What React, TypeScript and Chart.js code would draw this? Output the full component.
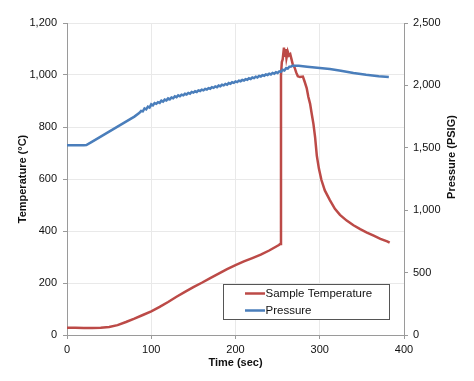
import React, { useEffect, useRef } from "react";
import { Chart, registerables } from "chart.js";

Chart.register(...registerables);

const FONT = '"Liberation Sans", Arial, Helvetica, sans-serif';

const seriesNames = ["Sample Temperature", "Pressure"];
const seriesColors = ["#BC4A47", "#4A7EBB"];

const xAxisTitle = "Time (sec)";
const leftAxisTitle = "Temperature (°C)";
const rightAxisTitle = "Pressure (PSIG)";

const xTickValues = [0, 100, 200, 300, 400];
const tempTickValues = [0, 200, 400, 600, 800, 1000, 1200];
const pressTickValues = [0, 500, 1000, 1500, 2000, 2500];

const tempTime = [
  0, 10, 20, 30, 40, 50, 60, 70, 80, 90, 100, 110, 120, 130, 140, 150, 160, 170, 180, 190,
  200, 210, 220, 230, 240, 251.5, 253, 254, 255, 256, 257.5, 258.5, 259.5, 260.5, 262,
  263.5, 265, 266.5, 268, 270, 272, 274, 276.5, 280, 282, 284.5, 286.5, 288.5, 290.5,
  292.5, 294.5, 296.5, 299, 302, 306, 312, 318, 324, 332, 340, 348, 356, 364, 372, 380, 383,
];
const tempValues = [
  28, 27.5, 27, 27, 28, 31, 38, 50, 63, 77, 91, 108, 127, 147, 166, 184, 201, 219, 236, 253,
  269, 283, 296, 309, 325, 346, 350, 1000, 1050, 1060, 1105, 1070, 1100, 1065, 1090,
  1075, 1080, 1060, 1040, 1030, 1010, 995, 992, 994, 975, 950, 915, 890, 850,
  812, 760, 690, 640, 596, 556, 519, 485, 462, 440, 422, 407, 394, 382, 370, 360, 355,
];

const pressTime = [
  0, 10, 20, 23, 30, 40, 50, 60, 70, 80, 86,
  88, 90, 92, 94, 96, 98, 100, 102, 104, 106, 108, 110, 112, 114, 116, 118, 120, 122, 124,
  126, 128, 130, 132, 134, 136, 138, 140, 142, 144, 146, 148, 150, 152, 154, 156, 158, 160,
  162, 164, 166, 168, 170, 172, 174, 176, 178, 180, 182, 184, 186, 188, 190, 192, 194, 196,
  198, 200, 202, 204, 206, 208, 210, 212, 214, 216, 218, 220, 222, 224, 226, 228, 230, 232,
  234, 236, 238, 240, 242, 244, 246, 248, 250, 252, 254, 256, 258, 260, 262, 264, 266, 268,
  275, 285, 300, 312, 325, 340, 355, 370, 382,
];
const pressValues = [
  1520, 1520, 1521, 1522, 1550, 1590, 1630, 1670, 1710, 1750, 1780,
  1795, 1792, 1815, 1808, 1830, 1822, 1848, 1840, 1858, 1852, 1866, 1860, 1878, 1870, 1886, 1880, 1896, 1888, 1903,
  1897, 1912, 1906, 1920, 1913, 1926, 1920, 1933, 1927, 1940, 1934, 1948, 1942, 1953, 1947, 1960, 1955, 1966,
  1960, 1972, 1967, 1978, 1973, 1986, 1980, 1992, 1986, 1999, 1993, 2005, 2000, 2012, 2006, 2019, 2013, 2025,
  2020, 2032, 2026, 2038, 2033, 2044, 2039, 2050, 2045, 2057, 2051, 2063, 2058, 2070, 2064, 2076, 2071, 2082,
  2077, 2088, 2083, 2094, 2088, 2100, 2094, 2106, 2100, 2112, 2108, 2125, 2120, 2138, 2135, 2150, 2152, 2158,
  2157, 2150, 2140, 2131, 2118, 2100, 2085, 2073, 2067,
];

const fmt = (v: number) => Number(v).toLocaleString("en-US");

const customDecor = {
  id: "customDecor",
  afterDraw(chart: any) {
    const ctx = chart.ctx;
    ctx.save();
    // right axis title, reading bottom to top
    ctx.translate(451.5, 157);
    ctx.rotate(-Math.PI / 2);
    ctx.font = `bold 11px ${FONT}`;
    ctx.fillStyle = "#111";
    ctx.textAlign = "center";
    ctx.textBaseline = "middle";
    ctx.fillText(rightAxisTitle, 0, 0);
    ctx.restore();

    // legend box
    ctx.save();
    const bx = 223.5, by = 284.5, bw = 166, bh = 35;
    ctx.fillStyle = "#ffffff";
    ctx.fillRect(bx, by, bw, bh);
    ctx.strokeStyle = "#555";
    ctx.lineWidth = 1;
    ctx.strokeRect(bx, by, bw, bh);
    const rows = [293.5, 310.5];
    chart.data.datasets.forEach((ds: any, i: number) => {
      const y = rows[i];
      ctx.strokeStyle = ds.borderColor;
      ctx.lineWidth = 2.5;
      ctx.beginPath();
      ctx.moveTo(245, y);
      ctx.lineTo(265, y);
      ctx.stroke();
      ctx.fillStyle = "#111";
      ctx.font = `11.5px ${FONT}`;
      ctx.textAlign = "left";
      ctx.textBaseline = "middle";
      ctx.fillText(ds.label, 265.5, y + 0.5);
    });
    ctx.restore();
  },
};

export default function App() {
  const ref = useRef<HTMLCanvasElement | null>(null);

  useEffect(() => {
    if (!ref.current) return;
    const gridColor = "#e9e9e9";
    const axisColor = "#9a9a9a";
    const tickFont = { family: FONT, size: 11 };
    const chart = new Chart(ref.current, {
      type: "line",
      data: {
        datasets: [
          {
            label: seriesNames[0],
            data: tempTime.map((t, i) => ({ x: t, y: tempValues[i] })),
            borderColor: seriesColors[0],
            backgroundColor: seriesColors[0],
            borderWidth: 2.5,
            pointRadius: 0,
            tension: 0,
            yAxisID: "y",
            order: 1,
          },
          {
            label: seriesNames[1],
            data: pressTime.map((t, i) => ({ x: t, y: pressValues[i] })),
            borderColor: seriesColors[1],
            backgroundColor: seriesColors[1],
            borderWidth: 2.5,
            pointRadius: 0,
            tension: 0,
            yAxisID: "y1",
            order: 0,
          },
        ],
      },
      options: {
        responsive: false,
        animation: false,
        events: [],
        layout: { padding: { top: 23, left: 0, right: 0, bottom: 0 }, autoPadding: false },
        plugins: {
          legend: { display: false },
          tooltip: { enabled: false },
        },
        scales: {
          x: {
            type: "linear",
            min: 0,
            max: 400,
            afterBuildTicks: (s: any) => {
              s.ticks = xTickValues.map((v) => ({ value: v }));
            },
            afterFit: (s: any) => {
              s.height = 46;
            },
            ticks: { font: tickFont, color: "#111", padding: 4, callback: (v: any) => fmt(v), maxRotation: 0 },
            grid: { color: gridColor, tickColor: axisColor, tickLength: 4 },
            border: { color: axisColor, width: 1 },
            title: {
              display: true,
              text: xAxisTitle,
              font: { family: FONT, size: 11, weight: "bold" },
              color: "#111",
              padding: { top: 0, bottom: 11 },
            },
          },
          y: {
            type: "linear",
            position: "left",
            min: 0,
            max: 1200,
            afterBuildTicks: (s: any) => {
              s.ticks = tempTickValues.map((v) => ({ value: v }));
            },
            afterFit: (s: any) => {
              s.width = 67;
            },
            ticks: { font: tickFont, color: "#111", padding: 6, callback: (v: any) => fmt(v) },
            grid: { color: gridColor, tickColor: axisColor, tickLength: 4 },
            border: { color: axisColor, width: 1 },
            title: {
              display: true,
              text: leftAxisTitle,
              font: { family: FONT, size: 11, weight: "bold" },
              color: "#111",
              padding: { top: 16, bottom: 0 },
            },
          },
          y1: {
            type: "linear",
            position: "right",
            min: 0,
            max: 2500,
            afterBuildTicks: (s: any) => {
              s.ticks = pressTickValues.map((v) => ({ value: v }));
            },
            afterFit: (s: any) => {
              s.width = 70;
            },
            ticks: { font: tickFont, color: "#111", padding: 5, callback: (v: any) => fmt(v) },
            grid: { drawOnChartArea: false, color: gridColor, tickColor: axisColor, tickLength: 4 },
            border: { color: axisColor, width: 1 },
          },
        },
      },
      plugins: [customDecor],
    } as any);
    return () => chart.destroy();
  }, []);

  return (
    <div style={{ position: "absolute", left: 0, top: 0, width: 474, height: 381, background: "#fff" }}>
      <canvas ref={ref} width={474} height={381} style={{ display: "block" }} />
    </div>
  );
}
